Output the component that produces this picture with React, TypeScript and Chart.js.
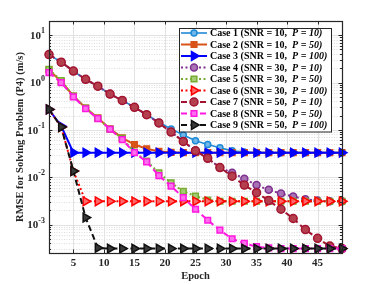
import { useEffect, useRef } from 'react';
import { Chart, registerables } from 'chart.js';

Chart.register(...registerables);

const epochs = [1, 3, 5, 7, 9, 11, 13, 15, 17, 19, 21, 23, 25, 27, 29, 31, 33, 35, 37, 39, 41, 43, 45, 47, 49];

const case1 = [3.9, 2.7, 1.75, 1.17, 0.84, 0.57, 0.42, 0.3, 0.21, 0.145, 0.105, 0.078, 0.059, 0.049, 0.042, 0.036, 0.034, 0.033, 0.033, 0.033, 0.033, 0.033, 0.033, 0.033, 0.033];
const case2 = [1.85, 1.05, 0.52, 0.29, 0.18, 0.105, 0.068, 0.049, 0.04, 0.035, 0.0335, 0.033, 0.033, 0.033, 0.033, 0.033, 0.033, 0.033, 0.033, 0.033, 0.033, 0.033, 0.033, 0.033, 0.033];
const case3 = [0.27, 0.12, 0.033, 0.033, 0.033, 0.033, 0.033, 0.033, 0.033, 0.033, 0.033, 0.033, 0.033, 0.033, 0.033, 0.033, 0.033, 0.033, 0.033, 0.033, 0.033, 0.033, 0.033, 0.033, 0.033];
const case4 = [3.9, 2.7, 1.75, 1.17, 0.84, 0.57, 0.42, 0.3, 0.21, 0.14, 0.09, 0.057, 0.036, 0.025, 0.016, 0.0124, 0.0093, 0.0068, 0.0054, 0.0045, 0.0039, 0.0034, 0.0032, 0.0031, 0.0031];
const case5 = [1.9, 1.1, 0.52, 0.29, 0.175, 0.103, 0.066, 0.034, 0.022, 0.0124, 0.0076, 0.005, 0.004, 0.0033, 0.0031, 0.0031, 0.0031, 0.0031, 0.0031, 0.0031, 0.0031, 0.0031, 0.0031, 0.0031, 0.0031];
const case6 = [0.27, 0.115, 0.0135, 0.0031, 0.0031, 0.0031, 0.0031, 0.0031, 0.0031, 0.0031, 0.0031, 0.0031, 0.0031, 0.0031, 0.0031, 0.0031, 0.0031, 0.0031, 0.0031, 0.0031, 0.0031, 0.0031, 0.0031, 0.0031, 0.0031];
const case7 = [3.9, 2.7, 1.75, 1.17, 0.84, 0.57, 0.42, 0.3, 0.21, 0.14, 0.09, 0.057, 0.036, 0.025, 0.016, 0.0105, 0.0068, 0.0047, 0.0032, 0.0021, 0.00134, 0.00078, 0.00051, 0.00035, 0.00031];
const case8 = [1.62, 1.0, 0.5, 0.28, 0.173, 0.103, 0.062, 0.033, 0.021, 0.0108, 0.0065, 0.0037, 0.0021, 0.00123, 0.00076, 0.0005, 0.0004, 0.00034, 0.00032, 0.00031, 0.00031, 0.00031, 0.00031, 0.00031, 0.00031];
const case9 = [0.27, 0.115, 0.0135, 0.0014, 0.00032, 0.00031, 0.00031, 0.00031, 0.00031, 0.00031, 0.00031, 0.00031, 0.00031, 0.00031, 0.00031, 0.00031, 0.00031, 0.00031, 0.00031, 0.00031, 0.00031, 0.00031, 0.00031, 0.00031, 0.00031];

const seriesValues = [case1, case2, case3, case4, case5, case6, case7, case8, case9];

const legendMain = [
  'Case 1 (SNR = 10,  ',
  'Case 2 (SNR = 10,  ',
  'Case 3 (SNR = 10,  ',
  'Case 4 (SNR = 30,  ',
  'Case 5 (SNR = 30,  ',
  'Case 6 (SNR = 30,  ',
  'Case 7 (SNR = 50,  ',
  'Case 8 (SNR = 50,  ',
  'Case 9 (SNR = 50,  ',
];
const legendItalic = [
  'P = 10)', 'P = 50)', 'P = 100)',
  'P = 10)', 'P = 50)', 'P = 100)',
  'P = 10)', 'P = 50)', 'P = 100)',
];

const xTickValues = [5, 10, 15, 20, 25, 30, 35, 40, 45];
const yDecadeExponents = [-3, -2, -1, 0, 1];
const xMin = 1;
const xMax = 49;
const yMin = 2.5e-4;
const yMax = 20;
const xTitle = 'Epoch';
const yTitle = 'RMSE for Solving Problem (P4) (m/s)';

type Style = {
  color: string;
  fill: string;
  dash: number[];
  width: number;
  marker: 'circle' | 'rect' | 'triangle';
  radius: number;
};

const styles: Style[] = [
  { color: '#1f8ad6', fill: '#6fb6ea', dash: [], width: 1.6, marker: 'circle', radius: 3 },
  { color: '#d95319', fill: '#d95319', dash: [], width: 2, marker: 'rect', radius: 4 },
  { color: '#0000ff', fill: '#0000ff', dash: [], width: 2, marker: 'triangle', radius: 5 },
  { color: '#7e2f8e', fill: '#a872b4', dash: [2, 2.5], width: 2, marker: 'circle', radius: 3.5 },
  { color: '#77ac30', fill: '#a4cc72', dash: [2, 2.5], width: 2, marker: 'rect', radius: 4 },
  { color: '#ff0000', fill: '#ff6a6a', dash: [2, 2.5], width: 2, marker: 'triangle', radius: 5 },
  { color: '#a2142f', fill: '#b4404f', dash: [6, 3.5], width: 2, marker: 'circle', radius: 4 },
  { color: '#ff19e0', fill: '#ff70ee', dash: [6, 3.5], width: 2, marker: 'rect', radius: 4 },
  { color: '#111111', fill: '#3a3a3a', dash: [6, 3.5], width: 2, marker: 'triangle', radius: 5 },
];

const FONT = '"Liberation Serif", "Times New Roman", serif';

function drawMarker(ctx: CanvasRenderingContext2D, s: Style, x: number, y: number) {
  ctx.save();
  ctx.setLineDash([]);
  ctx.lineWidth = 1.5;
  ctx.strokeStyle = s.color;
  ctx.fillStyle = s.fill;
  ctx.beginPath();
  if (s.marker === 'circle') {
    ctx.arc(x, y, s.radius, 0, Math.PI * 2);
  } else if (s.marker === 'rect') {
    const h = s.radius * Math.SQRT1_2;
    ctx.rect(x - h, y - h, 2 * h, 2 * h);
  } else {
    const r = s.radius;
    ctx.moveTo(x + r, y);
    ctx.lineTo(x - r * 0.5, y - r * 0.866);
    ctx.lineTo(x - r * 0.5, y + r * 0.866);
    ctx.closePath();
  }
  ctx.fill();
  ctx.stroke();
  ctx.restore();
}

const matlabAxes = {
  id: 'matlabAxes',
  beforeDatasetsDraw(chart: any) {
    const { ctx, chartArea: a, scales } = chart;
    const xs = scales.x;
    const ys = scales.y;
    ctx.save();
    ctx.beginPath();
    ctx.rect(a.left, a.top, a.right - a.left, a.bottom - a.top);
    ctx.clip();
    ctx.strokeStyle = '#c8c8c8';
    ctx.lineWidth = 0.6;
    ctx.setLineDash([1, 1.5]);
    for (let d = -4; d <= 1; d++) {
      for (let m = 2; m <= 9; m++) {
        const v = m * Math.pow(10, d);
        if (v < yMin || v > yMax) continue;
        const y = Math.round(ys.getPixelForValue(v)) + 0.5;
        ctx.beginPath();
        ctx.moveTo(a.left, y);
        ctx.lineTo(a.right, y);
        ctx.stroke();
      }
    }
    ctx.setLineDash([]);
    ctx.strokeStyle = '#e2e2e2';
    ctx.lineWidth = 1;
    for (const e of yDecadeExponents) {
      const y = Math.round(ys.getPixelForValue(Math.pow(10, e))) + 0.5;
      ctx.beginPath();
      ctx.moveTo(a.left, y);
      ctx.lineTo(a.right, y);
      ctx.stroke();
    }
    for (const t of xTickValues) {
      const x = Math.round(xs.getPixelForValue(t)) + 0.5;
      ctx.beginPath();
      ctx.moveTo(x, a.top);
      ctx.lineTo(x, a.bottom);
      ctx.stroke();
    }
    ctx.restore();
  },
  afterDatasetsDraw(chart: any) {
    const { ctx, chartArea: a, scales } = chart;
    const xs = scales.x;
    const ys = scales.y;
    ctx.save();
    ctx.setLineDash([]);
    ctx.strokeStyle = '#262626';
    ctx.lineWidth = 1;
    ctx.beginPath();
    for (const t of xTickValues) {
      const x = Math.round(xs.getPixelForValue(t)) + 0.5;
      ctx.moveTo(x, a.bottom);
      ctx.lineTo(x, a.bottom - 3.5);
      ctx.moveTo(x, a.top);
      ctx.lineTo(x, a.top + 3.5);
    }
    for (let d = -4; d <= 1; d++) {
      for (let m = 1; m <= 9; m++) {
        const v = m * Math.pow(10, d);
        if (v < yMin || v > yMax) continue;
        const y = Math.round(ys.getPixelForValue(v)) + 0.5;
        const len = m === 1 ? 3.5 : 2;
        ctx.moveTo(a.left, y);
        ctx.lineTo(a.left + len, y);
        ctx.moveTo(a.right, y);
        ctx.lineTo(a.right - len, y);
      }
    }
    ctx.stroke();
    ctx.lineWidth = 1.2;
    ctx.strokeRect(Math.round(a.left) + 0.5, Math.round(a.top) + 0.5, Math.round(a.right - a.left), Math.round(a.bottom - a.top));

    ctx.fillStyle = '#262626';
    ctx.font = `bold 11px ${FONT}`;
    ctx.textAlign = 'center';
    ctx.textBaseline = 'middle';
    for (const t of xTickValues) {
      ctx.fillText(String(t), xs.getPixelForValue(t), a.bottom + 10);
    }
    for (const e of yDecadeExponents) {
      const y = ys.getPixelForValue(Math.pow(10, e));
      const expText = String(e);
      ctx.font = `bold 8px ${FONT}`;
      const ew = ctx.measureText(expText).width;
      ctx.font = `bold 11px ${FONT}`;
      const bw = ctx.measureText('10').width;
      const right = a.left - 4;
      ctx.textAlign = 'left';
      ctx.textBaseline = 'middle';
      ctx.fillText('10', right - ew - bw, y + 1);
      ctx.font = `bold 8px ${FONT}`;
      ctx.fillText(expText, right - ew, y - 4);
    }
    ctx.font = `bold 10.5px ${FONT}`;
    ctx.textAlign = 'center';
    ctx.textBaseline = 'middle';
    ctx.fillText(xTitle, (a.left + a.right) / 2, a.bottom + 23);
    ctx.save();
    ctx.translate(20, (a.top + a.bottom) / 2);
    ctx.rotate(-Math.PI / 2);
    ctx.fillText(yTitle, 0, 0);
    ctx.restore();

    const lx = 179;
    const ly = 28;
    const lw = 152;
    const lh = 103.5;
    ctx.fillStyle = '#ffffff';
    ctx.fillRect(lx, ly, lw, lh);
    ctx.strokeStyle = '#262626';
    ctx.lineWidth = 1;
    ctx.strokeRect(lx + 0.5, ly + 0.5, lw, lh);
    for (let i = 0; i < styles.length; i++) {
      const s = styles[i];
      const cy = ly + 5 + i * 11.5;
      ctx.save();
      ctx.strokeStyle = s.color;
      ctx.lineWidth = s.width;
      ctx.setLineDash(s.dash);
      ctx.beginPath();
      ctx.moveTo(lx + 2, cy);
      ctx.lineTo(lx + 28, cy);
      ctx.stroke();
      ctx.restore();
      drawMarker(ctx, s, lx + 15, cy);
      ctx.fillStyle = '#000000';
      ctx.textAlign = 'left';
      ctx.textBaseline = 'middle';
      ctx.font = `bold 10px ${FONT}`;
      const tx = lx + 31;
      ctx.fillText(legendMain[i], tx, cy + 0.5);
      const mw = ctx.measureText(legendMain[i]).width;
      ctx.font = `italic bold 10px ${FONT}`;
      ctx.fillText(legendItalic[i], tx + mw, cy + 0.5);
    }
    ctx.restore();
  },
};

export default function App() {
  const canvasRef = useRef<HTMLCanvasElement | null>(null);

  useEffect(() => {
    if (!canvasRef.current) return;
    const datasets = seriesValues.map((vals, i) => {
      const s = styles[i];
      return {
        label: `${legendMain[i]}${legendItalic[i]}`,
        data: epochs.map((e, k) => ({ x: e, y: vals[k] })),
        borderColor: s.color,
        backgroundColor: s.fill,
        borderWidth: s.width,
        borderDash: s.dash,
        pointStyle: s.marker,
        pointRotation: s.marker === 'triangle' ? 90 : 0,
        pointRadius: s.radius,
        pointBorderWidth: 1.5,
        pointBorderColor: s.color,
        pointBackgroundColor: s.fill,
        tension: 0,
        fill: false,
        clip: false,
        order: styles.length - 1 - i,
      };
    });
    const chart = new Chart(canvasRef.current, {
      type: 'line',
      data: { datasets },
      options: {
        animation: false,
        responsive: false,
        devicePixelRatio: 1,
        layout: { padding: { left: 49, top: 21, right: 36, bottom: 31 } },
        plugins: { legend: { display: false }, tooltip: { enabled: false } },
        scales: {
          x: { type: 'linear', min: xMin, max: xMax, display: false },
          y: { type: 'logarithmic', min: yMin, max: yMax, display: false },
        },
      },
      plugins: [matlabAxes],
    });
    return () => chart.destroy();
  }, []);

  return (
    <div style={{ position: 'absolute', left: 0, top: 0, width: 378, height: 284, background: '#ffffff' }}>
      <canvas ref={canvasRef} width={378} height={284} style={{ width: 378, height: 284 }} />
    </div>
  );
}
